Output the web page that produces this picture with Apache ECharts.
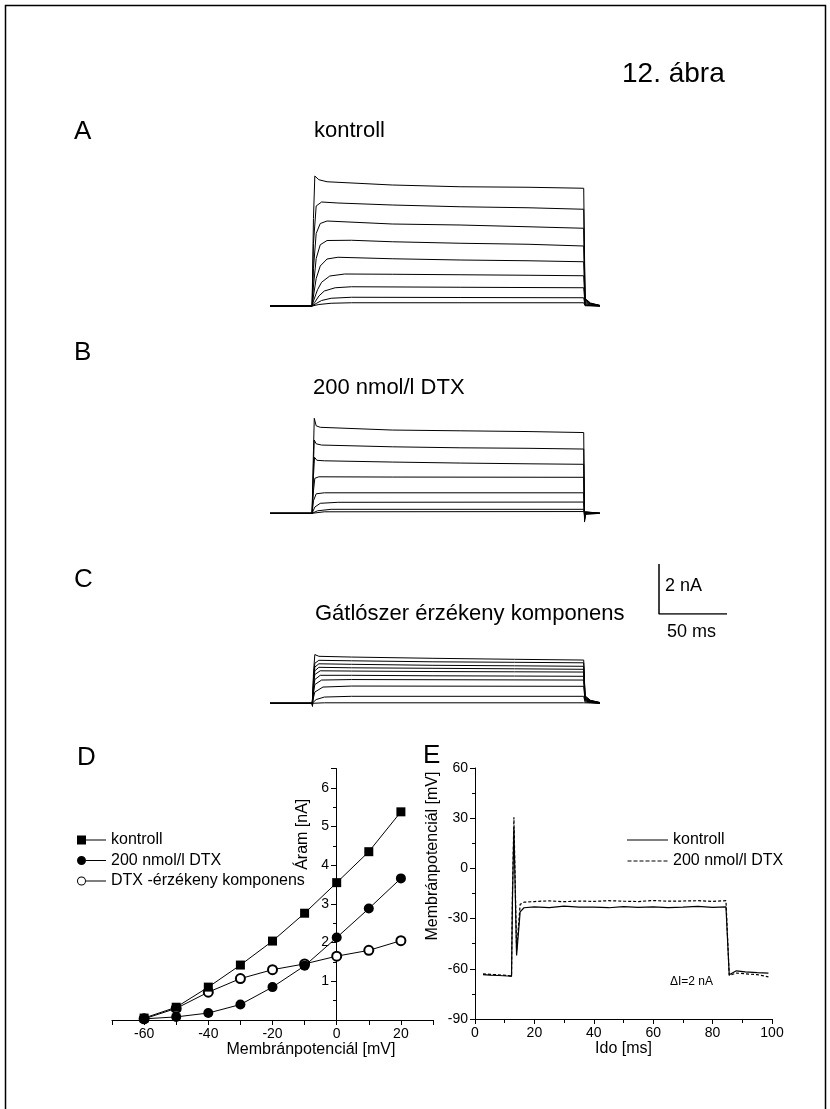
<!DOCTYPE html>
<html>
<head>
<meta charset="utf-8">
<script src="https://cdn.jsdelivr.net/npm/echarts@6/dist/echarts.min.js"></script>
<style>
  html, body { margin: 0; padding: 0; background: #fff; }
  #chart { width: 830px; height: 1109px; }
</style>
</head>
<body>
<div id="chart"></div>
<script>
const FONT = "'Liberation Sans', Arial, sans-serif"

// A: kontroll current traces [ms, nA]
const traceKontroll = [
  [[0, 0], [31, 0], [32, 3.5], [33, 5.2], [36, 5.05], [42, 4.97], [90, 4.84], [140, 4.77], [190, 4.75], [231, 4.71], [232, 0.3], [236, 0.12], [243, 0.02]],
  [[0, 0], [31, 0], [32, 2.5], [34, 4.0], [38, 4.16], [50, 4.12], [90, 4.04], [140, 3.97], [190, 3.93], [231, 3.87], [232, 0.28], [236, 0.1], [243, 0.02]],
  [[0, 0], [31, 0], [32, 1.5], [34, 2.9], [37, 3.3], [42, 3.4], [90, 3.28], [140, 3.24], [190, 3.17], [231, 3.11], [232, 0.25], [236, 0.1], [243, 0.02]],
  [[0, 0], [31, 0], [32, 0.8], [34, 1.9], [37, 2.45], [42, 2.62], [60, 2.63], [90, 2.57], [140, 2.51], [190, 2.47], [231, 2.4], [232, 0.2], [236, 0.08], [243, 0.01]],
  [[0, 0], [31, 0], [32, 0.4], [34, 1.1], [37, 1.6], [42, 1.88], [50, 1.95], [90, 1.89], [140, 1.84], [190, 1.81], [231, 1.77], [232, 0.15], [236, 0.06], [243, 0.01]],
  [[0, 0], [31, 0], [32, 0.2], [35, 0.65], [38, 0.95], [44, 1.2], [55, 1.28], [90, 1.27], [140, 1.25], [190, 1.23], [231, 1.21], [232, 0.1], [236, 0.04], [243, 0]],
  [[0, 0], [31, 0], [33, 0.15], [36, 0.4], [40, 0.6], [48, 0.73], [60, 0.77], [140, 0.75], [231, 0.73], [232, 0.06], [236, 0.02], [243, 0]],
  [[0, 0], [31, 0], [34, 0.1], [38, 0.22], [45, 0.31], [60, 0.35], [140, 0.34], [231, 0.33], [232, 0.03], [243, 0]],
  [[0, 0], [31, 0], [36, 0.06], [45, 0.11], [60, 0.13], [231, 0.13], [232, 0.01], [243, 0]],
]

// B: 200 nmol/l DTX current traces
const traceDtx = [
  [[0, 0], [31, 0], [32, 2.5], [32.6, 3.8], [34, 3.5], [37, 3.44], [90, 3.33], [140, 3.3], [190, 3.27], [231, 3.23], [231.6, -0.35], [232.5, 0.05], [243, 0]],
  [[0, 0], [31, 0], [32, 2.0], [32.6, 2.93], [34, 2.78], [38, 2.73], [90, 2.66], [140, 2.62], [190, 2.6], [231, 2.57], [231.6, -0.3], [232.5, 0.04], [243, 0]],
  [[0, 0], [31, 0], [32, 1.5], [32.8, 2.24], [34.5, 2.12], [40, 2.1], [90, 2.05], [140, 2.01], [190, 1.98], [231, 1.96], [231.6, -0.25], [232.5, 0.03], [243, 0]],
  [[0, 0], [31, 0], [32, 0.9], [33, 1.4], [36, 1.46], [90, 1.45], [231, 1.44], [231.6, -0.2], [232.5, 0.02], [243, 0]],
  [[0, 0], [31, 0], [32, 0.5], [34, 0.78], [40, 0.82], [231, 0.82], [231.6, -0.15], [232.5, 0.01], [243, 0]],
  [[0, 0], [31, 0], [33, 0.25], [37, 0.4], [50, 0.44], [231, 0.45], [231.6, -0.1], [232.5, 0], [243, 0]],
  [[0, 0], [31, 0], [35, 0.1], [45, 0.16], [231, 0.16], [231.6, -0.05], [232.5, 0], [243, 0]],
  [[0, 0], [31, 0], [40, 0.06], [231, 0.07], [232, 0], [243, 0]],
]

// C: inhibitor sensitive component
const traceSensitive = [
  [[0, 0], [31, 0], [31.3, -0.12], [32, 1.2], [33, 1.95], [36, 1.88], [60, 1.85], [120, 1.8], [180, 1.76], [231, 1.73], [232, 0.3], [236, 0.12], [243, 0.03]],
  [[0, 0], [31, 0], [31.3, -0.12], [32, 1.0], [33, 1.6], [36, 1.72], [60, 1.7], [120, 1.66], [180, 1.64], [231, 1.62], [232, 0.27], [236, 0.11], [243, 0.03]],
  [[0, 0], [31, 0], [31.3, -0.1], [32, 0.9], [33, 1.45], [36, 1.58], [60, 1.56], [120, 1.52], [180, 1.5], [231, 1.48], [232, 0.24], [236, 0.1], [243, 0.02]],
  [[0, 0], [31, 0], [31.3, -0.1], [32, 0.8], [33, 1.3], [36, 1.44], [60, 1.42], [120, 1.4], [180, 1.38], [231, 1.36], [232, 0.21], [236, 0.09], [243, 0.02]],
  [[0, 0], [31, 0], [31.3, -0.08], [32, 0.7], [33, 1.15], [37, 1.3], [60, 1.29], [120, 1.27], [180, 1.26], [231, 1.25], [232, 0.19], [236, 0.08], [243, 0.02]],
  [[0, 0], [31, 0], [31.3, -0.08], [32, 0.55], [33, 0.95], [37, 1.12], [60, 1.12], [120, 1.1], [180, 1.09], [231, 1.08], [232, 0.16], [236, 0.07], [243, 0.01]],
  [[0, 0], [31, 0], [31.3, -0.06], [32, 0.4], [33, 0.75], [38, 0.93], [60, 0.95], [231, 0.93], [232, 0.13], [236, 0.05], [243, 0.01]],
  [[0, 0], [31, 0], [31.3, -0.05], [33, 0.45], [39, 0.65], [60, 0.69], [231, 0.68], [232, 0.1], [236, 0.04], [243, 0]],
  [[0, 0], [31, 0], [34, 0.15], [40, 0.25], [60, 0.28], [231, 0.28], [232, 0.05], [243, 0]],
  [[0, 0], [31, 0], [40, 0.02], [231, 0.02], [243, 0]],
]

// scale bar: 50 ms x 2 nA
const scaleBar = [[0, 2], [0, 0], [50, 0]]

// D: I-V curves
const ivVoltage = [-60, -50, -40, -30, -20, -10, 0, 10, 20]
const ivKontroll = [0.05, 0.33, 0.85, 1.42, 2.04, 2.76, 3.55, 4.35, 5.38]
const ivDtx = [0.03, 0.08, 0.18, 0.4, 0.85, 1.4, 2.13, 2.88, 3.66]
const ivSensitive = [0.03, 0.3, 0.72, 1.07, 1.3, 1.45, 1.65, 1.8, 2.05]

// E: membrane potential [ms, mV]
const eTime = [2.7, 5, 8, 11, 12.3, 12.6, 13.1, 14.0, 15.2, 16.5, 20, 25, 30, 35, 40, 45, 50, 55, 60, 65, 70, 75, 80, 84.5, 85.6, 88, 91, 95, 98.8]
const eKontroll = [-63.5, -63.8, -64, -64.3, -64.5, -20, 24.5, -52, -26, -23.5, -23, -23.4, -22.6, -23.2, -23.1, -23.5, -22.8, -23.3, -23, -23.4, -23.2, -22.7, -23.3, -23, -63.5, -61.2, -61.8, -62.3, -62.6]
const eDtx = [-63, -63.3, -63.6, -64, -64.2, -15, 30.5, -49, -21.5, -20.2, -19.8, -19.4, -19.9, -19.5, -19.7, -19.3, -19.6, -19.8, -19.2, -19.6, -19.5, -19.3, -19.7, -19.3, -64, -62.5, -63, -63.5, -64.8]

const chart = echarts.init(document.getElementById('chart'))

const axisText = { color: '#000', fontSize: 14, fontFamily: FONT }
const nameText = { color: '#000', fontSize: 16, fontFamily: FONT }
const blackLine = { lineStyle: { color: '#000', width: 1 } }

function traceSeries(traces, idx) {
  return traces.map((tr) => ({
    type: 'line',
    xAxisIndex: idx,
    yAxisIndex: idx,
    data: tr,
    symbol: 'none',
    silent: true,
    lineStyle: { color: '#000', width: 1 },
  }))
}

function hiddenAxis(idx, min, max) {
  return { gridIndex: idx, type: 'value', min: min, max: max, show: false }
}

function label(text, x, y, size) {
  return {
    type: 'text',
    x: x,
    y: y,
    style: { text: text, fill: '#000', font: size + 'px ' + FONT, verticalAlign: 'middle' },
  }
}

chart.setOption({
  animation: false,
  grid: [
    { left: 270, width: 330, top: 168.5, height: 150 },
    { left: 270, width: 330, top: 400.8, height: 125 },
    { left: 270, width: 330, top: 640.8, height: 75 },
    { left: 659, width: 68, top: 564, height: 50 },
    { left: 112, width: 321, top: 768.5, height: 251.5 },
    { left: 475, width: 297, top: 768, height: 251 },
    // D current axis sits on 0 mV
    { left: 336, width: 1, top: 768.5, height: 251.5 },
  ],
  xAxis: [
    hiddenAxis(0, 0, 243),
    hiddenAxis(1, 0, 243),
    hiddenAxis(2, 0, 243),
    hiddenAxis(3, 0, 50),
    {
      gridIndex: 4,
      type: 'value',
      min: -70,
      max: 30,
      interval: 10,
      name: 'Membránpotenciál [mV]',
      nameLocation: 'middle',
      nameGap: 22,
      nameTextStyle: Object.assign({ padding: [0, 0, 0, 77] }, nameText),
      axisLine: Object.assign({ onZero: false }, blackLine),
      axisTick: Object.assign({ length: 5 }, blackLine),
      axisLabel: Object.assign({ margin: 7, formatter: (v) => (v % 20 === 0 ? String(v) : '') }, axisText),
      splitLine: { show: false },
    },
    {
      gridIndex: 5,
      type: 'value',
      min: 0,
      max: 100,
      interval: 20,
      name: 'Ido [ms]',
      nameLocation: 'middle',
      nameGap: 22,
      nameTextStyle: nameText,
      axisLine: Object.assign({ onZero: false }, blackLine),
      axisTick: Object.assign({ length: 5 }, blackLine),
      minorTick: Object.assign({ show: true, splitNumber: 2, length: 4 }, blackLine),
      axisLabel: Object.assign({ margin: 7 }, axisText),
      splitLine: { show: false },
    },
    hiddenAxis(6, 0, 1),
  ],
  yAxis: [
    hiddenAxis(0, -0.5, 5.5),
    hiddenAxis(1, -0.5, 4.5),
    hiddenAxis(2, -0.5, 2.5),
    hiddenAxis(3, 0, 2),
    hiddenAxis(4, 0, 6.5),
    {
      gridIndex: 5,
      type: 'value',
      min: -90,
      max: 60,
      interval: 30,
      name: 'Membránpotenciál [mV]',
      nameLocation: 'middle',
      nameGap: 34,
      nameTextStyle: Object.assign({ padding: [0, 0, 0, 75] }, nameText),
      axisLine: Object.assign({ onZero: false }, blackLine),
      axisTick: Object.assign({ length: 5 }, blackLine),
      minorTick: Object.assign({ show: true, splitNumber: 2, length: 3 }, blackLine),
      axisLabel: Object.assign({ margin: 7 }, axisText),
      splitLine: { show: false },
    },
    {
      gridIndex: 6,
      type: 'value',
      min: 0,
      max: 6.5,
      interval: 1,
      name: 'Áram [nA]',
      nameLocation: 'middle',
      nameGap: 25,
      nameTextStyle: Object.assign({ padding: [0, 0, 0, 120] }, nameText),
      axisLine: Object.assign({ onZero: false }, blackLine),
      axisTick: Object.assign({ length: 5 }, blackLine),
      minorTick: Object.assign({ show: true, splitNumber: 2, length: 3 }, blackLine),
      axisLabel: Object.assign({ margin: 7, formatter: (v) => (v === 0 || v % 1 !== 0 ? '' : String(v)) }, axisText),
      splitLine: { show: false },
    },
  ],
  legend: [
    {
      left: 77,
      top: 832,
      padding: 0,
      orient: 'vertical',
      itemWidth: 29,
      itemHeight: 9,
      itemGap: 4.5,
      selectedMode: false,
      textStyle: nameText,
      data: [
        { name: 'kontroll', icon: 'path://M0,0h9v9h-9zM9,4h20v1h-20z', itemStyle: { color: '#000', borderWidth: 0 } },
        { name: '200 nmol/l DTX', icon: 'path://M0,4.5a4.5,4.5,0,1,1,9,0a4.5,4.5,0,1,1,-9,0zM9,4h20v1h-20z', itemStyle: { color: '#000', borderWidth: 0 } },
        { name: 'DTX -érzékeny komponens', icon: 'path://M0,4.5a4.5,4.5,0,1,1,9,0a4.5,4.5,0,1,1,-9,0zM1,4.5a3.5,3.5,0,1,0,7,0a3.5,3.5,0,1,0,-7,0zM9,4h20v1h-20z', itemStyle: { color: '#000', borderWidth: 0 } },
      ],
    },
    {
      left: 627,
      top: 832,
      padding: 0,
      orient: 'vertical',
      itemWidth: 41,
      itemHeight: 1,
      itemGap: 5,
      selectedMode: false,
      textStyle: nameText,
      data: [
        { name: 'kontroll', icon: 'path://M0,0h41v1h-41z', itemStyle: { color: '#000', borderWidth: 0 } },
        { name: '200 nmol/l DTX', icon: 'path://M0,0h4v1h-4zM6,0h4v1h-4zM12,0h4v1h-4zM18,0h4v1h-4zM24,0h4v1h-4zM30,0h4v1h-4zM36,0h4v1h-4z', itemStyle: { color: '#000', borderWidth: 0 } },
      ],
    },
  ],
  series: [
    ...traceSeries(traceKontroll, 0),
    ...traceSeries(traceDtx, 1),
    ...traceSeries(traceSensitive, 2),
    {
      type: 'line',
      xAxisIndex: 3,
      yAxisIndex: 3,
      data: scaleBar,
      symbol: 'none',
      silent: true,
      lineStyle: { color: '#000', width: 1.5 },
    },
    {
      name: 'DTX -érzékeny komponens',
      type: 'line',
      xAxisIndex: 4,
      yAxisIndex: 4,
      z: 2,
      data: ivVoltage.map((v, i) => [v, ivSensitive[i]]),
      symbol: 'emptyCircle',
      symbolSize: 9,
      itemStyle: { color: '#000', borderColor: '#000', borderWidth: 1 },
      lineStyle: { color: '#000', width: 1 },
    },
    {
      name: 'kontroll',
      type: 'line',
      xAxisIndex: 4,
      yAxisIndex: 4,
      z: 3,
      data: ivVoltage.map((v, i) => [v, ivKontroll[i]]),
      symbol: 'rect',
      symbolSize: 9,
      itemStyle: { color: '#000' },
      lineStyle: { color: '#000', width: 1 },
    },
    {
      name: '200 nmol/l DTX',
      type: 'line',
      xAxisIndex: 4,
      yAxisIndex: 4,
      z: 4,
      data: ivVoltage.map((v, i) => [v, ivDtx[i]]),
      symbol: 'circle',
      symbolSize: 10,
      itemStyle: { color: '#000' },
      lineStyle: { color: '#000', width: 1 },
    },
    {
      name: 'kontroll',
      type: 'line',
      xAxisIndex: 5,
      yAxisIndex: 5,
      data: eTime.map((t, i) => [t, eKontroll[i]]),
      symbol: 'none',
      lineStyle: { color: '#000', width: 1.2 },
    },
    {
      name: '200 nmol/l DTX',
      type: 'line',
      xAxisIndex: 5,
      yAxisIndex: 5,
      data: eTime.map((t, i) => [t, eDtx[i]]),
      symbol: 'none',
      lineStyle: { color: '#000', width: 1.2, type: [3, 2] },
    },
  ],
  graphic: {
    elements: [
      { type: 'rect', shape: { x: 5.5, y: 5.5, width: 820, height: 1200 }, style: { fill: 'none', stroke: '#000', lineWidth: 1.5 } },
      label('12. ábra', 622, 74, 28),
      label('A', 74, 132, 26),
      label('kontroll', 314, 131, 22),
      label('B', 74, 353, 26),
      label('200 nmol/l DTX', 313, 388, 22),
      label('C', 74, 580, 26),
      label('Gátlószer érzékeny komponens', 315, 614, 22),
      label('2 nA', 665, 586, 18),
      label('50 ms', 667, 632, 18),
      label('D', 77, 758, 26),
      label('E', 423, 756, 26),
      label('ΔI=2 nA', 670, 982, 12),
    ],
  },
})
</script>
</body>
</html>
